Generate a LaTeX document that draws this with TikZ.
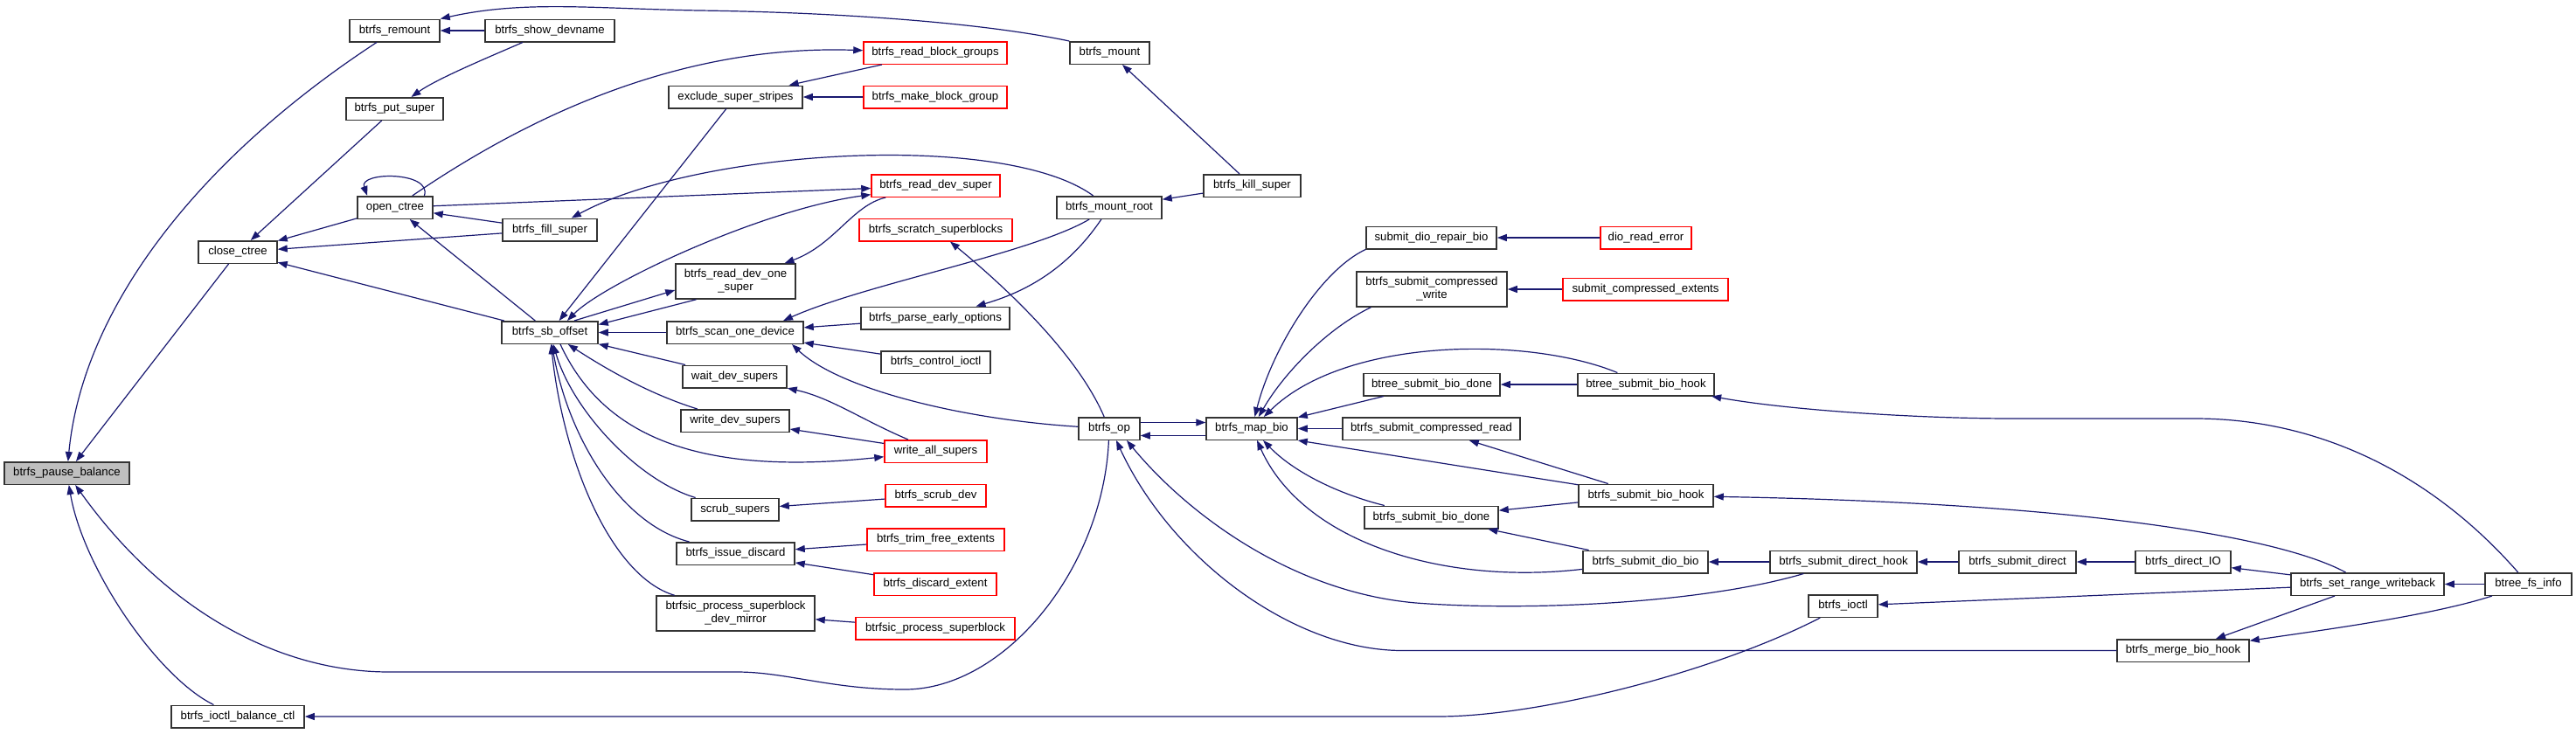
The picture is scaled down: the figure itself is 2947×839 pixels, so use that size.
\documentclass[tikz,border=0pt]{standalone}
\usepackage{fontspec}
\setmainfont{Liberation Sans}
\usetikzlibrary{arrows.meta}
\definecolor{edgeblue}{RGB}{25,25,112}
\definecolor{boxgray}{RGB}{191,191,191}
\definecolor{linkred}{RGB}{255,0,0}

\begin{document}
\begin{tikzpicture}[
  x=1pt,y=-1pt,
  >={Triangle[length=11pt,width=8pt]},
  fn/.style={draw=black!80,line width=1.5pt,minimum height=25.5pt,inner sep=2pt,
    font=\fontsize{13.2pt}{15pt}\selectfont,align=center,fill=white},
  fnred/.style={fn,draw=linkred},
  fnroot/.style={fn,fill=boxgray},
  call/.style={->,draw=edgeblue,line width=1.2pt}
]
  \useasboundingbox (0,0) rectangle (2947,839);

  \node[fnroot,minimum width=143pt] (pause) at (76.5,541.5) {btrfs\_pause\_balance};
  \node[fn,minimum width=103pt] (remount) at (451.5,35) {btrfs\_remount};
  \node[fn,minimum width=148pt] (showdev) at (629,35) {btrfs\_show\_devname};
  \node[fn,minimum width=111pt] (putsuper) at (451.5,124.5) {btrfs\_put\_super};
  \node[fn,minimum width=86pt] (openctree) at (452,237.5) {open\_ctree};
  \node[fn,minimum width=108pt] (fillsuper) at (629,263) {btrfs\_fill\_super};
  \node[fn,minimum width=90pt] (closectree) at (272,288.5) {close\_ctree};
  \node[fn,minimum width=110pt] (sboffset) at (629,380.5) {btrfs\_sb\_offset};
  \node[fn,minimum width=152pt] (balctl) at (272,820) {btrfs\_ioctl\_balance\_ctl};

  \node[fn,minimum width=153pt] (excl) at (841.5,111) {exclude\_super\_stripes};
  \node[fn,minimum width=137pt,minimum height=40pt] (readone) at (841.5,322) {btrfs\_read\_dev\_one\\\_super};
  \node[fn,minimum width=156pt] (scan) at (841,380.5) {btrfs\_scan\_one\_device};
  \node[fn,minimum width=119pt] (waitdev) at (840.5,431) {wait\_dev\_supers};
  \node[fn,minimum width=124pt] (writedev) at (841,481.5) {write\_dev\_supers};
  \node[fn,minimum width=100pt] (scrubsup) at (841,583) {scrub\_supers};
  \node[fn,minimum width=135pt] (issue) at (841.5,633.5) {btrfs\_issue\_discard};
  \node[fn,minimum width=181pt,minimum height=40pt] (mirror) at (841.5,702) {btrfsic\_process\_superblock\\\_dev\_mirror};

  \node[fnred,minimum width=164pt] (readbg) at (1070,60.5) {btrfs\_read\_block\_groups};
  \node[fnred,minimum width=164pt] (makebg) at (1070,111) {btrfs\_make\_block\_group};
  \node[fnred,minimum width=147pt] (readdev) at (1070.5,212.5) {btrfs\_read\_dev\_super};
  \node[fnred,minimum width=175pt] (scratch) at (1070.5,263) {btrfs\_scratch\_superblocks};
  \node[fn,minimum width=170pt] (parse) at (1070,364) {btrfs\_parse\_early\_options};
  \node[fn,minimum width=125pt] (ctlioctl) at (1070.5,414.5) {btrfs\_control\_ioctl};
  \node[fnred,minimum width=117pt] (writeall) at (1070.5,516.5) {write\_all\_supers};
  \node[fnred,minimum width=115pt] (scrubdev) at (1070.5,567) {btrfs\_scrub\_dev};
  \node[fnred,minimum width=157pt] (trim) at (1070.5,617.5) {btrfs\_trim\_free\_extents};
  \node[fnred,minimum width=140pt] (discard) at (1070,668.5) {btrfs\_discard\_extent};
  \node[fnred,minimum width=182pt] (procsb) at (1070,719) {btrfsic\_process\_superblock};

  \node[fn,minimum width=91pt] (mount) at (1269.5,60.5) {btrfs\_mount};
  \node[fn,minimum width=120pt] (mountroot) at (1269,237.5) {btrfs\_mount\_root};
  \node[fn,minimum width=70pt] (op) at (1269,490.5) {btrfs\_op};
  \node[fn,minimum width=111pt] (kill) at (1432.5,212.5) {btrfs\_kill\_super};
  \node[fn,minimum width=104pt] (mapbio) at (1432,490.5) {btrfs\_map\_bio};

  \node[fn,minimum width=149pt] (repair) at (1637.5,272) {submit\_dio\_repair\_bio};
  \node[fn,minimum width=172pt,minimum height=40pt] (cwrite) at (1638,331) {btrfs\_submit\_compressed\\\_write};
  \node[fn,minimum width=156pt] (btdone) at (1638,440) {btree\_submit\_bio\_done};
  \node[fn,minimum width=203pt] (cread) at (1637.5,490.5) {btrfs\_submit\_compressed\_read};
  \node[fn,minimum width=153pt] (sbdone) at (1637.5,592) {btrfs\_submit\_bio\_done};

  \node[fnred,minimum width=104pt] (dioerr) at (1883,272) {dio\_read\_error};
  \node[fnred,minimum width=189pt] (cext) at (1882.5,331) {submit\_compressed\_extents};
  \node[fn,minimum width=156pt] (bthook) at (1883,440) {btree\_submit\_bio\_hook};
  \node[fn,minimum width=154pt] (sbhook) at (1883,567) {btrfs\_submit\_bio\_hook};
  \node[fn,minimum width=143pt] (diobio) at (1882.5,643) {btrfs\_submit\_dio\_bio};

  \node[fn,minimum width=168pt] (dirhook) at (2109,643) {btrfs\_submit\_direct\_hook};
  \node[fn,minimum width=79pt] (ioctl) at (2108.5,693.5) {btrfs\_ioctl};
  \node[fn,minimum width=134pt] (subdirect) at (2308,643) {btrfs\_submit\_direct};
  \node[fn,minimum width=109pt] (directio) at (2497.5,643) {btrfs\_direct\_IO};
  \node[fn,minimum width=151pt] (merge) at (2497.5,744.5) {btrfs\_merge\_bio\_hook};
  \node[fn,minimum width=175pt] (setrange) at (2708.5,668.5) {btrfs\_set\_range\_writeback};
  \node[fn,minimum width=99pt] (fsinfo) at (2892.5,668.5) {btree\_fs\_info};

  \draw[call] (remount) .. controls (230,180) and (95,350) .. (pause);
  \draw[call] (closectree) -- (pause);
  \draw[call] (op) .. controls (1262,650) and (1150,789) .. (1035,789)
    .. controls (950,789) and (900,769) .. (843,769) -- (445,769)
    .. controls (320,769) and (190,700) .. (pause);
  \draw[call] (balctl) .. controls (180,775) and (95,650) .. (pause);
  \draw[call] (ioctl) .. controls (1960,770) and (1760,820) .. (1645,820) -- (balctl);
  \draw[call] (mount.north west) .. controls (1120,25) and (950,14) .. (800,12)
    .. controls (680,10) and (600,0) .. (remount.north east);
  \draw[call] (showdev) -- (remount);
  \draw[call] (showdev) .. controls (560,65) and (500,90) .. (putsuper);
  \draw[call] (putsuper) -- (closectree);
  \draw[call] (openctree) -- (closectree);
  \draw[call] (fillsuper) -- (closectree);
  \draw[call] (sboffset) -- (closectree);
  \draw[call] (openctree.22) .. controls (495,196) and (410,196) .. (openctree.157);
  \draw[call] (fillsuper) -- (openctree);
  \draw[call] (sboffset) -- (openctree);
  \draw[call] (openctree) .. controls (580,150) and (760,50) .. (readbg);
  \draw[call] (openctree) -- (readdev);
  \draw[call,<->] ([xshift=20pt]sboffset.north) .. controls (690,325) and (870,240) .. (readdev);
  \draw[call] (readdev) .. controls (975,235) and (955,280) .. (readone);
  \draw[call] ([xshift=28pt]sboffset.north) -- ([yshift=-10pt]readone.west);
  \draw[call] ([xshift=-45pt]readone.south) -- ([yshift=9pt]sboffset.east);
  \draw[call] (scan) -- (sboffset);
  \draw[call] (waitdev) -- (sboffset);
  \draw[call] (writedev) .. controls (740,450) and (690,420) .. (sboffset);
  \draw[call] ([xshift=12pt]sboffset.south) .. controls (690,500) and (800,545) .. (writeall);
  \draw[call] (scrubsup) .. controls (730,550) and (655,470) .. (sboffset);
  \draw[call] (issue) .. controls (710,600) and (650,500) .. (sboffset);
  \draw[call] (mirror) .. controls (700,660) and (645,530) .. (sboffset);
  \draw[call] (writeall) .. controls (985,480) and (950,455) .. (waitdev);
  \draw[call] (writeall) -- (writedev);
  \draw[call] (scrubdev) -- (scrubsup);
  \draw[call] (trim) -- (issue);
  \draw[call] (discard) -- (issue);
  \draw[call] (procsb) -- (mirror);
  \draw[call] (readbg) -- (excl);
  \draw[call] (makebg) -- (excl);
  \draw[call] (excl) -- (sboffset);
  \draw[call] (kill) -- (mount);
  \draw[call] (kill) -- (mountroot);
  \draw[call] (mountroot) .. controls (1150,150) and (800,170) .. (fillsuper);
  \draw[call] (mountroot) .. controls (1180,290) and (990,325) .. ([xshift=55pt]scan.north);
  \draw[call] (mountroot) .. controls (1220,310) and (1170,335) .. (parse);
  \draw[call] (parse) -- (scan);
  \draw[call] (ctlioctl) -- (scan);
  \draw[call] (op) .. controls (1100,480) and (960,445) .. ([xshift=65pt]scan.south);
  \draw[call] (op) .. controls (1230,400) and (1140,320) .. (scratch);
  \draw[call] ([yshift=7pt]op.east) -- ([yshift=7pt]mapbio.west);
  \draw[call] ([yshift=-8pt]mapbio.west) -- ([yshift=-8pt]op.east);
  \draw[call] (dirhook) .. controls (1950,690) and (1750,700) .. (1620,690)
    .. controls (1480,678) and (1360,590) .. ([xshift=20pt]op.south);
  \draw[call] (merge) -- (1604,744.5) .. controls (1480,744.5) and (1340,640) .. ([xshift=8pt]op.south);
  \draw[call] (repair.south west) .. controls (1510,310) and (1455,400) .. (mapbio);
  \draw[call] ([xshift=17pt]cwrite.south west) .. controls (1520,375) and (1470,425) .. (mapbio);
  \draw[call] (bthook) .. controls (1750,385) and (1540,385) .. (mapbio);
  \draw[call] (btdone) -- (mapbio);
  \draw[call] (cread) -- (mapbio);
  \draw[call] (sbhook) -- (mapbio.south east);
  \draw[call] (sbdone) .. controls (1530,565) and (1480,540) .. (mapbio);
  \draw[call] (diobio) .. controls (1650,670) and (1490,620) .. (mapbio);
  \draw[call] (bthook) -- (btdone);
  \draw[call] (sbhook) -- (cread);
  \draw[call] (sbhook) -- (sbdone);
  \draw[call] (diobio) -- (sbdone);
  \draw[call] (dirhook) -- (diobio);
  \draw[call] (setrange) -- (ioctl);
  \draw[call] (fsinfo) .. controls (2780,540) and (2650,479) .. (2511,479) -- (2302,479)
    .. controls (2200,479) and (2050,470) .. (bthook);
  \draw[call] (setrange) .. controls (2600,610) and (2350,575) .. (sbhook);
  \draw[call] (subdirect) -- (dirhook);
  \draw[call] (directio) -- (subdirect);
  \draw[call] (setrange) -- (directio);
  \draw[call] (fsinfo) -- (setrange);
  \draw[call] (setrange) -- (merge);
  \draw[call] (fsinfo) .. controls (2780,705) and (2650,722) .. (merge);
  \draw[call] (dioerr) -- (repair);
  \draw[call] (cext) -- (cwrite);
\end{tikzpicture}
\end{document}
